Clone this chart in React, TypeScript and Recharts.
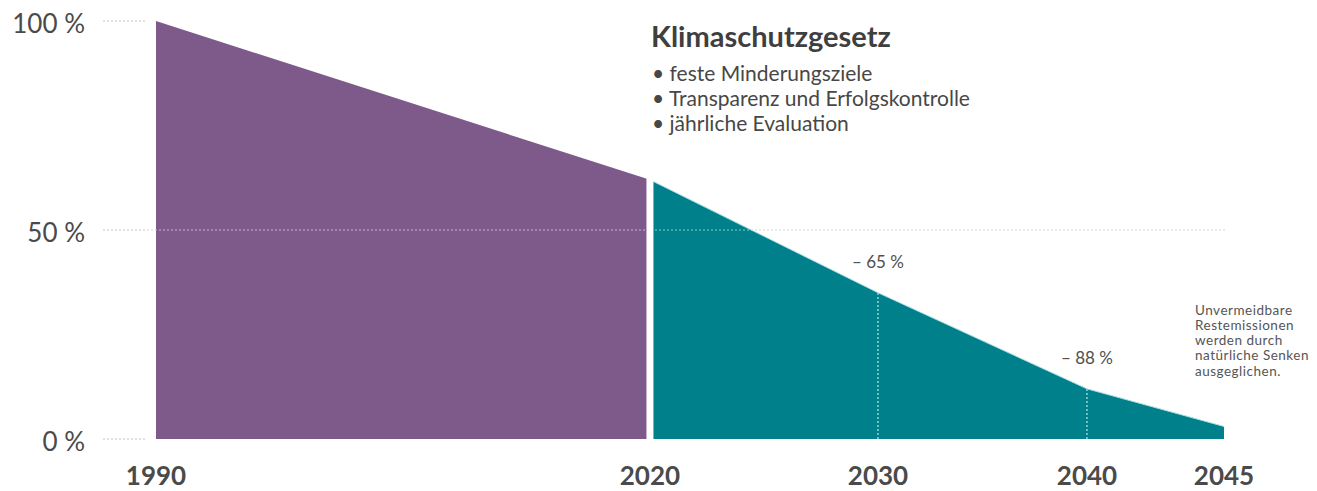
import React from 'react';
import { ComposedChart, Area, XAxis, YAxis, ReferenceLine, LabelList } from 'recharts';

// ---- data ----
const years = [1990, 2020, 2030, 2040, 2045];
const historic: (number | null)[] = [100, 62, null, null, null];
const target: (number | null)[] = [null, 62, 35, 12, 3];
const targetLabels = ['', '', '– 65 %', '– 88 %', ''];
const yTicks = [0, 50, 100];
const yTickLabels = ['0 %', '50 %', '100 %'];
// relative visual spacing of the (non-linear) year axis
const axisStops = [0, 0.4625, 0.676, 0.8717, 1];

const title = 'Klimaschutzgesetz';
const bullets = ['feste Minderungsziele', 'Transparenz und Erfolgskontrolle', 'jährliche Evaluation'];
const note = ['Unvermeidbare', 'Restemissionen', 'werden durch', 'natürliche Senken', 'ausgeglichen.'];

const chartData = years.map((year, i) => ({
  year,
  historic: historic[i],
  target: target[i],
  label: targetLabels[i],
}));

// ---- piecewise linear scale for the year axis ----
function piecewiseScale(breaks: number[], stops: number[]): any {
  let dom: number[] = [breaks[0], breaks[breaks.length - 1]];
  let rng: number[] = [0, 1];
  const frac = (v: number) => {
    let i = 0;
    while (i < breaks.length - 2 && v > breaks[i + 1]) i++;
    const t = (v - breaks[i]) / (breaks[i + 1] - breaks[i]);
    return stops[i] + t * (stops[i + 1] - stops[i]);
  };
  const s: any = (v: any) => rng[0] + frac(Number(v)) * (rng[1] - rng[0]);
  s.domain = (d?: number[]) => {
    if (d === undefined) return dom.slice();
    dom = Array.from(d);
    return s;
  };
  s.range = (r?: number[]) => {
    if (r === undefined) return rng.slice();
    rng = Array.from(r);
    return s;
  };
  s.copy = () => piecewiseScale(breaks, stops).domain(dom).range(rng);
  s.ticks = () => breaks.slice();
  s.tickFormat = () => (v: number) => String(v);
  s.nice = () => s;
  s.clamp = () => s;
  s.invert = (px: number) => {
    const f = (px - rng[0]) / (rng[1] - rng[0]);
    let i = 0;
    while (i < stops.length - 2 && f > stops[i + 1]) i++;
    const t = (f - stops[i]) / (stops[i + 1] - stops[i]);
    return breaks[i] + t * (breaks[i + 1] - breaks[i]);
  };
  return s;
}

const yearScale = piecewiseScale(years, axisStops);

const FONT = 'Lato, "Open Sans", sans-serif';
const PURPLE = '#7e5a8b';
const TEAL = '#00808b';
const TEXT = '#474747';

const XTick = (props: any) => {
  const { x, y, payload } = props;
  return (
    <text x={x} y={y + 46} textAnchor="middle" fontFamily={FONT} fontSize={26} fontWeight={700} fill="#4a4a4a">
      {payload.value}
    </text>
  );
};

const YTick = (props: any) => {
  const { x, y, payload } = props;
  const idx = yTicks.indexOf(payload.value);
  return (
    <text x={x} y={y + 12} textAnchor="end" fontFamily={FONT} fontSize={26} fill="#4a4a4a">
      {yTickLabels[idx]}
    </text>
  );
};

const MilestoneLabel = (props: any) => {
  const { x, y, value } = props;
  if (!value) return null;
  return (
    <text x={x} y={y - 25} textAnchor="middle" fontFamily={FONT} fontSize={17} fill="#505050">
      {value}
    </text>
  );
};

export default function App() {
  return (
    <div style={{ position: 'relative', width: 1317, height: 491, background: '#fff' }}>
      <style>{'body{margin:0;background:#fff}'}</style>
      <ComposedChart width={1317} height={491} data={chartData} margin={{ top: 21, right: 92, bottom: 0, left: 0 }}>
        <XAxis
          dataKey="year"
          type="number"
          scale={yearScale}
          domain={[years[0], years[years.length - 1]]}
          ticks={years}
          padding={{ left: 9, right: 1 }}
          axisLine={false}
          tickLine={false}
          tickSize={0}
          tickMargin={0}
          height={52}
          tick={<XTick />}
          interval={0}
        />
        <YAxis
          type="number"
          domain={[0, 100]}
          ticks={yTicks}
          width={147}
          axisLine={false}
          tickSize={44}
          tickMargin={18}
          tickLine={{ stroke: '#c4c4c4', strokeDasharray: '2 2' }}
          tick={<YTick />}
          interval={0}
        />
        <ReferenceLine y={50} stroke="#c4c4c4" strokeDasharray="2 2" zIndex={-10} />
        <Area
          type="linear"
          dataKey="historic"
          fill={PURPLE}
          fillOpacity={1}
          stroke="none"
          isAnimationActive={false}
          dot={false}
          activeDot={false}
        />
        <Area
          type="linear"
          dataKey="target"
          fill={TEAL}
          fillOpacity={1}
          stroke="#a9dfe5"
          strokeWidth={1}
          isAnimationActive={false}
          dot={false}
          activeDot={false}
        >
          <LabelList dataKey="label" content={<MilestoneLabel />} />
        </Area>
        <ReferenceLine
          segment={[{ x: years[1], y: 0 }, { x: years[1], y: 100 }]}
          stroke="#ffffff"
          strokeWidth={7}
          zIndex={450}
        />
        <ReferenceLine y={50} stroke="rgba(255,255,255,0.55)" strokeDasharray="2 2" zIndex={500} />
        {years.map((yr, i) =>
          targetLabels[i] ? (
            <ReferenceLine
              key={yr}
              segment={[{ x: yr, y: 0 }, { x: yr, y: target[i] as number }]}
              stroke="#8fd4dd"
              strokeDasharray="2 2"
              strokeWidth={1.5}
              zIndex={500}
            />
          ) : null
        )}
      </ComposedChart>
      <svg
        width={1317}
        height={491}
        style={{ position: 'absolute', left: 0, top: 0, pointerEvents: 'none' }}
      >
        <text x={651} y={47} fontFamily={FONT} fontSize={29} fontWeight={700} fill="#3f3f3f">
          {title}
        </text>
        {bullets.map((b, i) => (
          <text key={b} x={652} y={81 + i * 25} fontFamily={FONT} fontSize={21} fill={TEXT}>
            {'• ' + b}
          </text>
        ))}
        {note.map((n, i) => (
          <text
            key={n}
            x={1195}
            y={314.5 + i * 15.3}
            fontFamily={FONT}
            fontSize={13.5}
            letterSpacing={0.5}
            fill="#555"
          >
            {n}
          </text>
        ))}
      </svg>
    </div>
  );
}
